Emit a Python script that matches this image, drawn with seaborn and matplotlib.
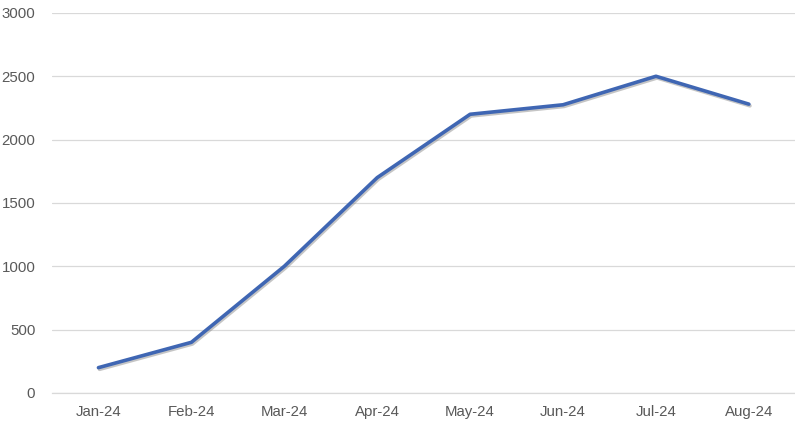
import matplotlib
matplotlib.use("Agg")
import matplotlib.pyplot as plt
import matplotlib.patheffects as pe
import pandas as pd
import seaborn as sns

# data
months = ["Jan-24", "Feb-24", "Mar-24", "Apr-24", "May-24", "Jun-24", "Jul-24", "Aug-24"]
values = [200, 400, 1000, 1700, 2200, 2275, 2500, 2280]
yticks = [0, 500, 1000, 1500, 2000, 2500, 3000]

df = pd.DataFrame({"month": months, "value": values})
df["pos"] = range(len(months))

sns.set_style("white")
plt.rcParams["font.family"] = ["Liberation Sans", "DejaVu Sans"]

fig = plt.figure(figsize=(7.95, 4.28), dpi=100)
ax = fig.add_axes([0.0654, 0.0818, 0.935, 0.888])

sns.lineplot(data=df, x="pos", y="value", ax=ax, color="#3F66B3", linewidth=2.6,
             path_effects=[pe.SimpleLineShadow(offset=(0.8, -1.2), shadow_color="#7f7f7f", alpha=0.45),
                           pe.Normal()])

ax.set_ylim(0, 3000)
ax.set_xlim(-0.5, len(months) - 0.5)
ax.set_yticks(yticks)
ax.set_yticklabels([str(v) for v in yticks])
ax.yaxis.grid(True, color="#d9d9d9", linewidth=0.9)
ax.set_axisbelow(True)

# category labels centred, tick marks at boundaries
ax.set_xticks(range(len(months)))
ax.set_xticklabels(months)
ax.set_xticks([i - 0.5 for i in range(len(months) + 1)], minor=True)
ax.tick_params(axis="x", which="major", length=0, pad=9, labelsize=10.8, labelcolor="#595959")
ax.tick_params(axis="x", which="minor", length=5, color="#d9d9d9", width=0.9)
ax.tick_params(axis="y", length=0, pad=12, labelsize=10.8, labelcolor="#595959")

for s in ["top", "right", "left"]:
    ax.spines[s].set_visible(False)
ax.spines["bottom"].set_color("#d9d9d9")
ax.spines["bottom"].set_linewidth(0.9)

ax.set_xlabel("")
ax.set_ylabel("")

fig.savefig("out.png", dpi=100)
